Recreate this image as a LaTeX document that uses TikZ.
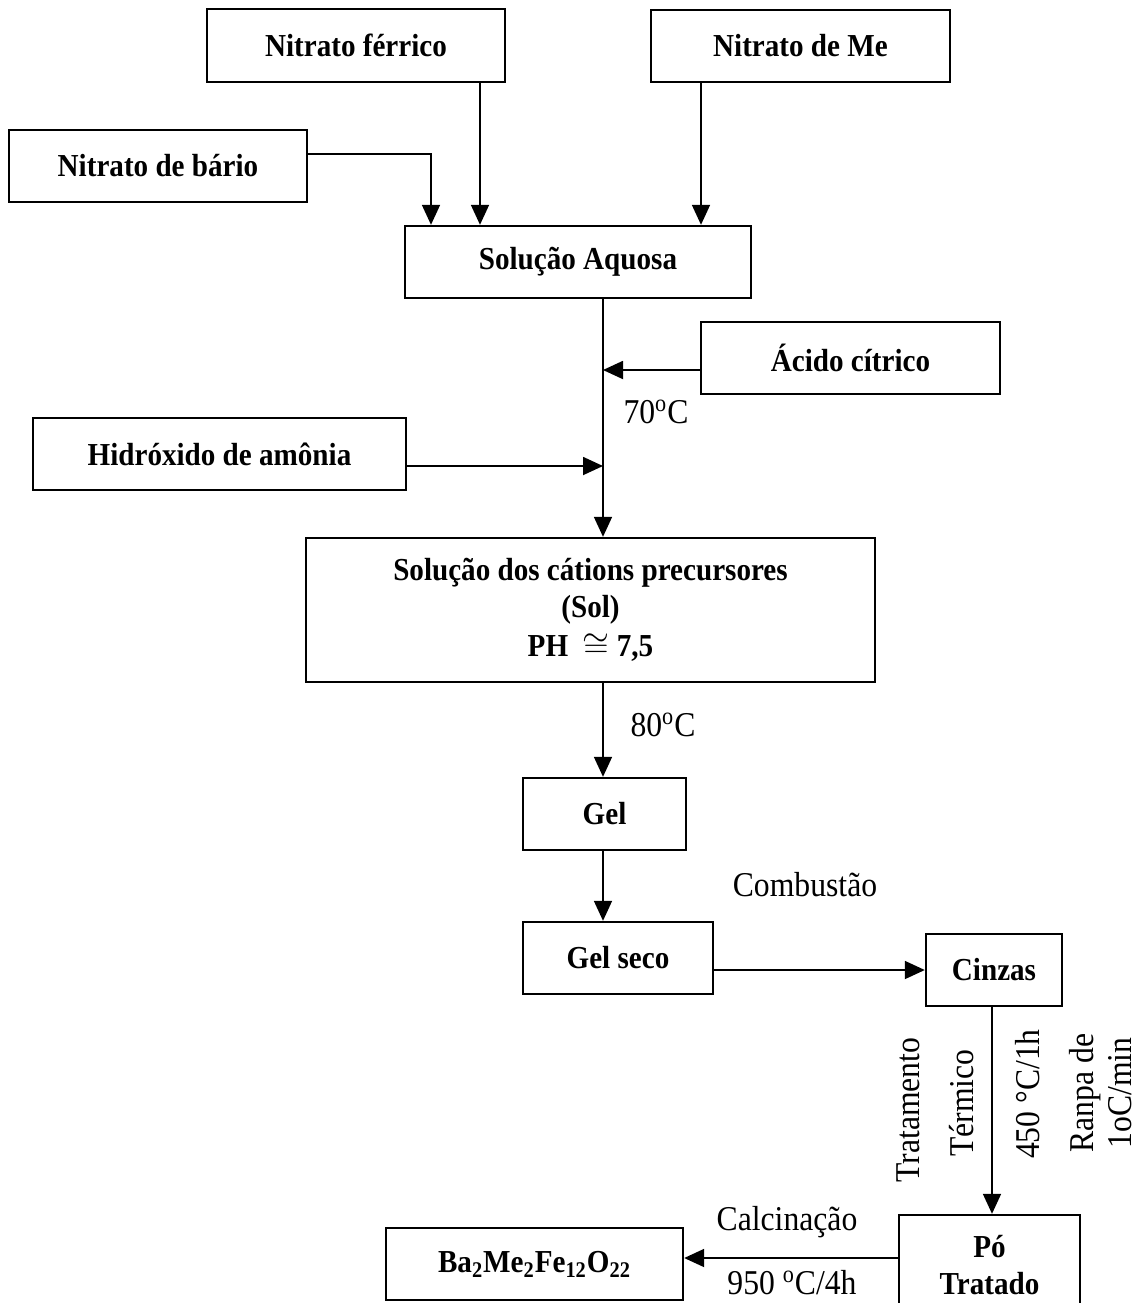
\documentclass[tikz,border=0pt]{standalone}
\usepackage{fontspec}
\setmainfont{Liberation Serif}[FakeStretch=0.91]
\usetikzlibrary{arrows.meta,calc}
\begin{document}
\begin{tikzpicture}[x=0.5pt,y=-0.5pt,
  box/.style={draw,line width=1.2pt,inner sep=0pt,align=center,
    font=\fontsize{16pt}{18.5pt}\selectfont\bfseries},
  lbl/.style={inner sep=0pt,font=\fontsize{17.4pt}{19pt}\selectfont},
  arr/.style={line width=0.9pt,-{Triangle[length=10pt,width=9pt]}}]
\useasboundingbox (0,0) rectangle (1138,1303);
\clip (0,0) rectangle (1138,1303);
% boxes
\node[box,minimum width=149pt,minimum height=36.5pt] (NF) at (356,45.5) {Nitrato férrico};
\node[box,minimum width=149.5pt,minimum height=36pt] (NM) at (800.5,46) {Nitrato de Me};
\node[box,minimum width=149pt,minimum height=36pt] (NB) at (158,166) {Nitrato de bário};
\node[box,minimum width=173pt,minimum height=36pt] (SA) at (578,262) {Solução Aquosa};
\node[box,minimum width=149.5pt,minimum height=36pt] (AC) at (850.5,358) {Ácido cítrico};
\node[box,minimum width=186.5pt,minimum height=36pt] (HA) at (219.5,454) {Hidróxido de amônia};
\node[box,minimum width=284.5pt,minimum height=72pt] (SC) at (590.5,610)
  {Solução dos cátions precursores\\(Sol)\\[1pt]PH \ $\cong$ 7,5};
\node[box,minimum width=81.5pt,minimum height=36pt] (Gel) at (604.5,814) {Gel};
\node[box,minimum width=95pt,minimum height=36pt] (GS) at (618,958) {Gel seco};
\node[box,minimum width=68pt,minimum height=36pt] (CZ) at (994,970) {Cinzas};
\node[box,minimum width=90.5pt,minimum height=50pt] (PO) at (989.5,1265) {Pó\\Tratado};
\node[box,minimum width=148.5pt,minimum height=36pt] (BA) at (534.5,1264)
  {Ba\textsubscript{2}Me\textsubscript{2}Fe\textsubscript{12}O\textsubscript{22}};
% column coordinates
\coordinate (colx) at (603,0);
\coordinate (bx) at (431,0);
\coordinate (fx) at (480,0);
\coordinate (mx) at (701,0);
\coordinate (cx) at (992,0);
\coordinate (py) at (0,1258);
% connectors
\draw[arr] ($(NB.east)+(0,-12)$) -| (SA.north -| bx);
\draw[arr] (NF.south -| fx) -- (SA.north -| fx);
\draw[arr] (NM.south -| mx) -- (SA.north -| mx);
\draw[arr] (SA.south -| colx) -- (SC.north -| colx);
\draw[arr] ($(AC.west)+(0,12)$) -- ($(AC.west -| colx)+(0,12)$);
\draw[arr] ($(HA.east)+(0,12)$) -- ($(HA.east -| colx)+(0,12)$);
\draw[arr] (SC.south -| colx) -- (Gel.north -| colx);
\draw[arr] (Gel.south -| colx) -- (GS.north -| colx);
\draw[arr] (GS.east |- CZ.west) -- (CZ.west);
\draw[arr] (CZ.south -| cx) -- (PO.north -| cx);
\draw[arr] (PO.west |- py) -- (BA.east |- py);
% labels
\node[lbl] (l70) at (656,412) {70\textsuperscript{o}C};
\node[lbl] (l80) at (663,725) {80\textsuperscript{o}C};
\node[lbl] (lcomb) at (805,885) {Combustão};
\node[lbl] (lcalc) at (787,1222) {Calcinação};
\node[lbl] (l950) at (792,1283) {950 \textsuperscript{o}C/4h};
\node[lbl,rotate=90] (ltrat) at (908,1110) {Tratamento};
\node[lbl,rotate=90] (lterm) at (962,1103) {Térmico};
\node[lbl,rotate=90] (l450) at (1028,1094) {450 °C/1h};
\node[lbl,rotate=90,align=center] (lranpa) at (1101,1093) {Ranpa de\\1oC/min};
\end{tikzpicture}
\end{document}
